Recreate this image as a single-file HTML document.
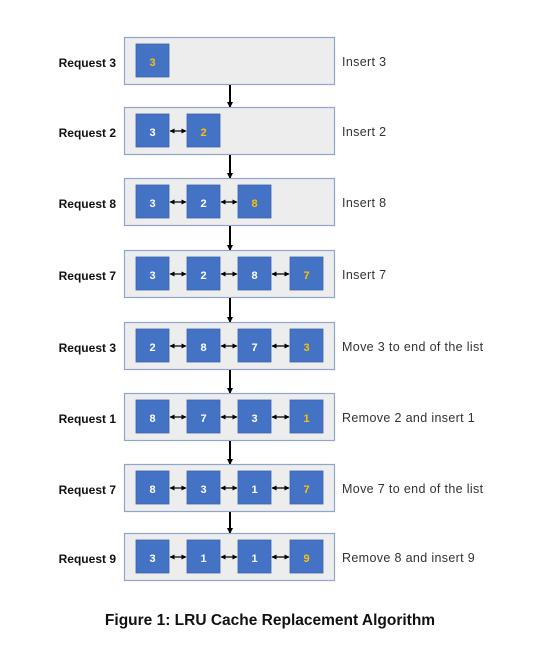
<!DOCTYPE html>
<html><head><style>
body{margin:0;background:#fff;width:533px;height:647px;overflow:hidden}
svg{display:block}
text{font-family:"Liberation Sans",sans-serif}
</style></head><body>
<svg width="533" height="647" viewBox="0 0 533 647">
<defs>
<marker id="ah" markerWidth="6" markerHeight="6" refX="5" refY="3" orient="auto" markerUnits="userSpaceOnUse"><path d="M0,0 L6,3 L0,6 z" fill="#000"/></marker>
<marker id="sa" markerWidth="5" markerHeight="5" refX="4.5" refY="2.5" orient="auto-start-reverse" markerUnits="userSpaceOnUse"><path d="M0,0 L5,2.5 L0,5 z" fill="#000"/></marker>
</defs>
<g id="g"></g>
<text x="270" y="625" text-anchor="middle" font-size="15.5" font-weight="bold" fill="#111">Figure 1: LRU Cache Replacement Algorithm</text>
</svg>
<script>
var rows=[
["Request 3",["3"],"Insert 3",37],
["Request 2",["3","2"],"Insert 2",107],
["Request 8",["3","2","8"],"Insert 8",178],
["Request 7",["3","2","8","7"],"Insert 7",250],
["Request 3",["2","8","7","3"],"Move 3 to end of the list",322],
["Request 1",["8","7","3","1"],"Remove 2 and insert 1",393],
["Request 7",["8","3","1","7"],"Move 7 to end of the list",464],
["Request 9",["3","1","1","9"],"Remove 8 and insert 9",533]];
var xs=[136,187,238,290];var s="";
rows.forEach(function(r,i){var y=r[3];
s+='<rect x="124.5" y="'+(y+.5)+'" width="210" height="47" fill="#ededed" stroke="#8fa6cc" stroke-width="1.2"/>';
s+='<text x="116" y="'+(y+30)+'" text-anchor="end" font-size="12" font-weight="bold" fill="#111">'+r[0]+'</text>';
s+='<text x="342" y="'+(y+29)+'" font-size="12.5" letter-spacing="0.35" fill="#333">'+r[2]+'</text>';
r[1].forEach(function(v,j){var x=xs[j];
s+='<rect x="'+x+'" y="'+(y+7)+'" width="33" height="33" fill="#4472c4" stroke="#3a64b0" stroke-width="0.8"/>';
s+='<text x="'+(x+16.5)+'" y="'+(y+29)+'" text-anchor="middle" font-size="11" font-weight="bold" fill="'+(j==r[1].length-1?'#ffc000':'#fff')+'">'+v+'</text>';
if(j>0){s+='<line x1="'+(xs[j-1]+34)+'" y1="'+(y+24)+'" x2="'+(x-1)+'" y2="'+(y+24)+'" stroke="#000" stroke-width="1.2" marker-start="url(#sa)" marker-end="url(#sa)"/>';}
});
if(i<7){s+='<line x1="230" y1="'+(y+48)+'" x2="230" y2="'+(rows[i+1][3])+'" stroke="#000" stroke-width="2" marker-end="url(#ah)"/>';}
});
document.getElementById("g").innerHTML=s;
</script>
</body></html>
